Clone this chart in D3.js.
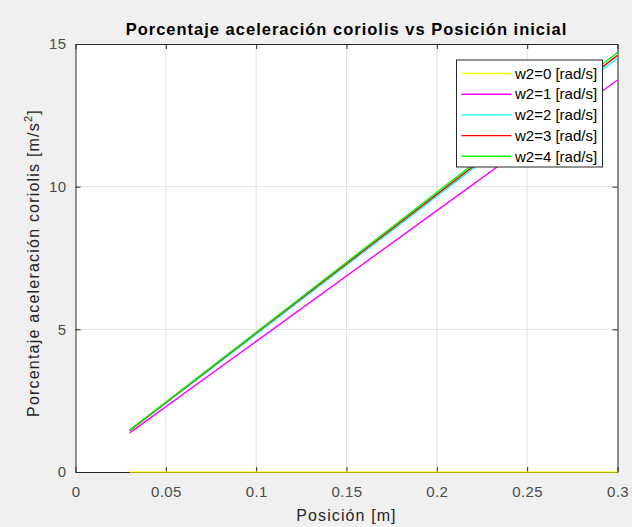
<!DOCTYPE html>
<html>
<head>
<meta charset="utf-8">
<script src="https://cdn.jsdelivr.net/npm/d3@7"></script>
<style>
  body { margin: 0; background: #f0f0f0; }
  text { font-family: "Liberation Sans", Arial, sans-serif; }
</style>
</head>
<body>
<div id="chart"></div>
<script>
var svgWidth = 632;
var svgHeight = 527;

var margin = { top: 44, right: 14.5, bottom: 55, left: 75.5 };
var width = svgWidth - margin.left - margin.right;
var height = svgHeight - margin.top - margin.bottom;

// data
var posiciones = [0.03, 0.1, 0.2, 0.3];
var seriesNames = ["w2=0 [rad/s]", "w2=1 [rad/s]", "w2=2 [rad/s]", "w2=3 [rad/s]", "w2=4 [rad/s]"];
var w2_0 = [0, 0, 0, 0];
var w2_1 = [1.37, 4.58, 9.16, 13.74];
var w2_2 = [1.45, 4.83, 9.67, 14.5];
var w2_3 = [1.46, 4.87, 9.73, 14.6];
var w2_4 = [1.47, 4.9, 9.8, 14.7];
var seriesColors = ["#ffff00", "#ff00ff", "#00ffff", "#ff0000", "#00ff00"];
var xTicks = [0, 0.05, 0.1, 0.15, 0.2, 0.25, 0.3];
var xTickLabels = ["0", "0.05", "0.1", "0.15", "0.2", "0.25", "0.3"];
var yTicks = [0, 5, 10, 15];

var allSeries = [w2_0, w2_1, w2_2, w2_3, w2_4];

var svg = d3.select("#chart")
  .append("svg")
  .attr("width", svgWidth)
  .attr("height", svgHeight);

svg.append("rect")
  .attr("width", svgWidth)
  .attr("height", svgHeight)
  .attr("fill", "#f0f0f0");

var chartGroup = svg.append("g")
  .attr("transform", `translate(${margin.left}, ${margin.top})`);

var xLinearScale = d3.scaleLinear().domain([0, 0.3]).range([0, width]);
var yLinearScale = d3.scaleLinear().domain([0, 15]).range([height, 0]);

// plot background
chartGroup.append("rect")
  .attr("width", width)
  .attr("height", height)
  .attr("fill", "#ffffff");

// grid lines
chartGroup.append("g")
  .selectAll("line")
  .data(xTicks.slice(1, -1))
  .enter()
  .append("line")
  .attr("x1", d => xLinearScale(d))
  .attr("x2", d => xLinearScale(d))
  .attr("y1", 0)
  .attr("y2", height)
  .attr("stroke", "#e3e3e3")
  .attr("stroke-width", 1);

chartGroup.append("g")
  .selectAll("line")
  .data(yTicks.slice(1, -1))
  .enter()
  .append("line")
  .attr("x1", 0)
  .attr("x2", width)
  .attr("y1", d => yLinearScale(d))
  .attr("y2", d => yLinearScale(d))
  .attr("stroke", "#e3e3e3")
  .attr("stroke-width", 1);

// axes (ticks pointing inward, box on)
var bottomAxis = d3.axisBottom(xLinearScale).tickValues(xTicks)
  .tickFormat((d, i) => xTickLabels[i]).tickSizeInner(-5).tickSizeOuter(0).tickPadding(14);
var topAxis = d3.axisTop(xLinearScale).tickValues(xTicks).tickFormat("").tickSizeInner(-5).tickSizeOuter(0);
var leftAxis = d3.axisLeft(yLinearScale).tickValues(yTicks).tickSizeInner(-5).tickSizeOuter(0).tickPadding(9);
var rightAxis = d3.axisRight(yLinearScale).tickValues(yTicks).tickFormat("").tickSizeInner(-5).tickSizeOuter(0);

var axisColor = "#262626";

function styleAxis(g) {
  g.select(".domain").attr("stroke", axisColor).attr("stroke-width", 1);
  g.selectAll(".tick line").attr("stroke", axisColor).attr("stroke-width", 1);
  g.selectAll(".tick text")
    .attr("fill", "#4a4a4a")
    .attr("font-size", "15px")
    .attr("letter-spacing", "0.4px")
    .attr("font-family", "Liberation Sans, Arial, sans-serif");
}

chartGroup.append("g")
  .attr("transform", `translate(0, ${height})`)
  .call(bottomAxis)
  .call(styleAxis);
chartGroup.append("g").call(topAxis).call(styleAxis);
chartGroup.append("g").call(leftAxis).call(styleAxis);
chartGroup.append("g")
  .attr("transform", `translate(${width}, 0)`)
  .call(rightAxis)
  .call(styleAxis);

// lines
var line = d3.line()
  .x((d, i) => xLinearScale(posiciones[i]))
  .y(d => yLinearScale(d));

chartGroup.selectAll(".serie")
  .data(allSeries)
  .enter()
  .append("path")
  .attr("class", "serie")
  .attr("d", d => line(d))
  .attr("fill", "none")
  .attr("stroke", (d, i) => seriesColors[i])
  .attr("stroke-width", 1.4)
  .attr("opacity", (d, i) => i === 0 ? 0.8 : 1);

// title
svg.append("text")
  .attr("x", margin.left + width / 2)
  .attr("y", 35)
  .attr("text-anchor", "middle")
  .attr("font-size", "16.5px")
  .attr("font-weight", "bold")
  .attr("letter-spacing", "1px")
  .attr("fill", "#000")
  .text("Porcentaje aceleración coriolis vs Posición inicial");

// x label
svg.append("text")
  .attr("x", margin.left + width / 2)
  .attr("y", 521)
  .attr("text-anchor", "middle")
  .attr("font-size", "16px")
  .attr("letter-spacing", "1.1px")
  .attr("fill", "#262626")
  .text("Posición [m]");

// y label
var ylab = svg.append("text")
  .attr("transform", `translate(39, ${margin.top + height / 2 + 5}) rotate(-90)`)
  .attr("text-anchor", "middle")
  .attr("font-size", "16px")
  .attr("letter-spacing", "1.2px")
  .attr("fill", "#262626");
ylab.append("tspan").text("Porcentaje aceleración coriolis [m/s");
ylab.append("tspan").attr("font-size", "11px").attr("dy", -7).text("2");
ylab.append("tspan").attr("dy", 7).text("]");

// legend
var legend = svg.append("g").attr("transform", "translate(456.5, 60)");
legend.append("rect")
  .attr("width", 146)
  .attr("height", 107)
  .attr("fill", "#ffffff")
  .attr("stroke", axisColor)
  .attr("stroke-width", 1);

var legendItems = legend.selectAll(".item")
  .data(seriesNames)
  .enter()
  .append("g")
  .attr("class", "item")
  .attr("transform", (d, i) => `translate(0, ${13.5 + i * 20.7})`);

legendItems.append("line")
  .attr("x1", 5)
  .attr("x2", 55)
  .attr("stroke", (d, i) => seriesColors[i])
  .attr("stroke-width", 1.4);

legendItems.append("text")
  .attr("x", 58.5)
  .attr("dy", "0.35em")
  .attr("font-size", "15px")
  .attr("fill", "#000")
  .text(d => d);
</script>
</body>
</html>
